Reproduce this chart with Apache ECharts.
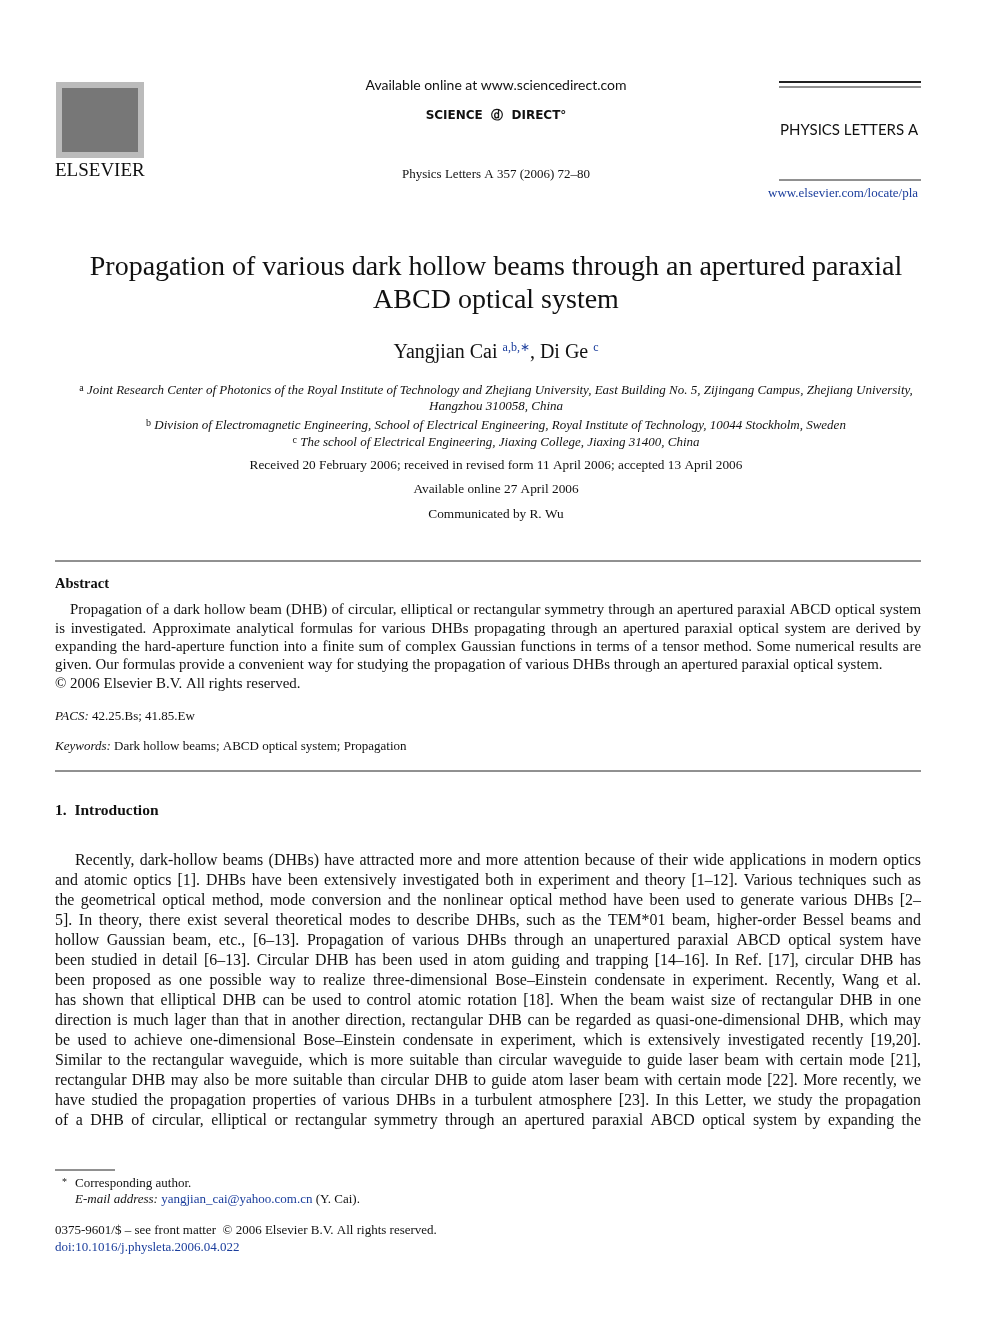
<!DOCTYPE html>
<html><head><meta charset="utf-8">
<script src="https://cdn.jsdelivr.net/npm/echarts@6/dist/echarts.min.js"></script>
<style>html,body{margin:0;padding:0;background:#fff}#c{width:992px;height:1323px}</style>
</head><body><div id="c"></div>
<script>
const titleLines = ["Propagation of various dark hollow beams through an apertured paraxial","ABCD optical system"];
const affLines = [
 ["a","Joint Research Center of Photonics of the Royal Institute of Technology and Zhejiang University, East Building No. 5, Zijingang Campus, Zhejiang University,",390],
 ["","Hangzhou 310058, China",407],
 ["b","Division of Electromagnetic Engineering, School of Electrical Engineering, Royal Institute of Technology, 10044 Stockholm, Sweden",425],
 ["c","The school of Electrical Engineering, Jiaxing College, Jiaxing 31400, China",442]];
const dateLines = [["Received 20 February 2006; received in revised form 11 April 2006; accepted 13 April 2006",466],["Available online 27 April 2006",490],["Communicated by R. Wu",515]];
const abstractLines = [
 "Propagation of a dark hollow beam (DHB) of circular, elliptical or rectangular symmetry through an apertured paraxial ABCD optical system",
 "is investigated. Approximate analytical formulas for various DHBs propagating through an apertured paraxial optical system are derived by",
 "expanding the hard-aperture function into a finite sum of complex Gaussian functions in terms of a tensor method. Some numerical results are",
 "given. Our formulas provide a convenient way for studying the propagation of various DHBs through an apertured paraxial optical system.",
 "© 2006 Elsevier B.V. All rights reserved."];
const bodyLines = [
 "Recently, dark-hollow beams (DHBs) have attracted more and more attention because of their wide applications in modern optics",
 "and atomic optics [1]. DHBs have been extensively investigated both in experiment and theory [1–12]. Various techniques such as",
 "the geometrical optical method, mode conversion and the nonlinear optical method have been used to generate various DHBs [2–",
 "5]. In theory, there exist several theoretical modes to describe DHBs, such as the TEM*01 beam, higher-order Bessel beams and",
 "hollow Gaussian beam, etc., [6–13]. Propagation of various DHBs through an unapertured paraxial ABCD optical system have",
 "been studied in detail [6–13]. Circular DHB has been used in atom guiding and trapping [14–16]. In Ref. [17], circular DHB has",
 "been proposed as one possible way to realize three-dimensional Bose–Einstein condensate in experiment. Recently, Wang et al.",
 "has shown that elliptical DHB can be used to control atomic rotation [18]. When the beam waist size of rectangular DHB in one",
 "direction is much lager than that in another direction, rectangular DHB can be regarded as quasi-one-dimensional DHB, which may",
 "be used to achieve one-dimensional Bose–Einstein condensate in experiment, which is extensively investigated recently [19,20].",
 "Similar to the rectangular waveguide, which is more suitable than circular waveguide to guide laser beam with certain mode [21],",
 "rectangular DHB may also be more suitable than circular DHB to guide atom laser beam with certain mode [22]. More recently, we",
 "have studied the propagation properties of various DHBs in a turbulent atmosphere [23]. In this Letter, we study the propagation",
 "of a DHB of circular, elliptical or rectangular symmetry through an apertured paraxial ABCD optical system by expanding the"];
const F = "'Liberation Serif', serif";
const g = [];
const cv = document.createElement('canvas').getContext('2d');
function t(x,y,s,o){g.push({type:'text',left:x,top:y,style:Object.assign({text:s,font:'14px '+F,fill:'#111'},o||{})});}
function tc(y,s,o){g.push({type:'text',left:'center',top:y,style:Object.assign({text:s,font:'14px '+F,fill:'#111'},o||{})});}
function ln(x1,y,x2,w){g.push({type:'line',shape:{x1:x1,y1:y,x2:x2,y2:y},style:{stroke:'#222',lineWidth:w||1}});}
function just(x0,x1,y,s,font){
  const words=s.split(' '); cv.font=font;
  const tot=words.reduce((a,w)=>a+cv.measureText(w).width,0);
  const gap=(x1-x0-tot)/(words.length-1);
  let x=x0;
  words.forEach(w=>{g.push({type:'text',x:x,y:y,style:{text:w,font:font,fill:'#111'}});x+=cv.measureText(w).width+gap;});
}
// Elsevier logo
g.push({type:'rect',shape:{x:56,y:82,width:88,height:76},style:{fill:'#bbb'}});
g.push({type:'rect',shape:{x:62,y:88,width:76,height:64},style:{fill:'#777'}});
t(55,162,'ELSEVIER',{font:'19px '+F});
tc(78,'Available online at www.sciencedirect.com',{font:'14px Lato, sans-serif'});
tc(110,'SCIENCE  ⓓ  DIRECT°',{font:'bold 12px DejaVu Sans, sans-serif'});
tc(168,'Physics Letters A 357 (2006) 72–80',{font:'13px '+F});
ln(779,82,921,2); ln(779,87,921,1);
t(780,123,'PHYSICS LETTERS A',{font:'15px Lato, sans-serif'});
ln(779,180,921,1);
t(768,187,'www.elsevier.com/locate/pla',{font:'13px '+F,fill:'#1a3d9c'});
tc(254,titleLines[0],{font:'28px '+F});
tc(287,titleLines[1],{font:'28px '+F});
g.push({type:'text',left:'center',top:342,style:{text:'Yangjian Cai {s|a,b,∗}, Di Ge {s|c}',font:'20px '+F,fill:'#111',rich:{s:{font:'12px '+F,fill:'#1a3d9c',verticalAlign:'top',padding:[0,0,10,0]}}}});
affLines.forEach(a=>g.push({type:'text',left:'center',top:a[2]-7,style:{text:(a[0]?'{s|'+a[0]+'} ':'')+a[1],font:'italic 13px '+F,fill:'#111',rich:{s:{font:'10px '+F,padding:[0,0,6,0]}}}}));
dateLines.forEach(a=>tc(a[1]-7,a[0],{font:'13.3px '+F}));
ln(55,561,921,1);
t(55,577,'Abstract',{font:'bold 14.5px '+F});
abstractLines.forEach((s,i)=>{const y=603+i*18.3; if(i<3) just(i==0?70:55,921,y,s,'14.9px '+F); else t(i==0?70:55,y,s,{font:'14.9px '+F});});
g.push({type:'text',left:55,top:710,style:{text:'{i|PACS:} 42.25.Bs; 41.85.Ew',font:'13px '+F,fill:'#111',rich:{i:{font:'italic 13px '+F}}}});
g.push({type:'text',left:55,top:740,style:{text:'{i|Keywords:} Dark hollow beams; ABCD optical system; Propagation',font:'13px '+F,fill:'#111',rich:{i:{font:'italic 13px '+F}}}});
ln(55,771,921,1);
t(55,803,'1.  Introduction',{font:'bold 15.5px '+F});
bodyLines.forEach((s,i)=>just(i==0?75:55,921,853+i*20,s,'15.9px '+F));
ln(55,1170,115,1);
t(62,1177,'*',{font:'10px '+F});
t(75,1177,'Corresponding author.',{font:'13px '+F});
g.push({type:'text',left:75,top:1193,style:{text:'{i|E-mail address:} {b|yangjian_cai@yahoo.com.cn} (Y. Cai).',font:'13px '+F,fill:'#111',rich:{i:{font:'italic 13px '+F},b:{fill:'#1a3d9c',font:'13px '+F}}}});
t(55,1224,'0375-9601/$ – see front matter  © 2006 Elsevier B.V. All rights reserved.',{font:'13px '+F});
t(55,1241,'doi:10.1016/j.physleta.2006.04.022',{font:'13px '+F,fill:'#1a3d9c'});
const chart = echarts.init(document.getElementById('c'));
chart.setOption({animation:false,backgroundColor:'#fff',graphic:g});
</script></body></html>
